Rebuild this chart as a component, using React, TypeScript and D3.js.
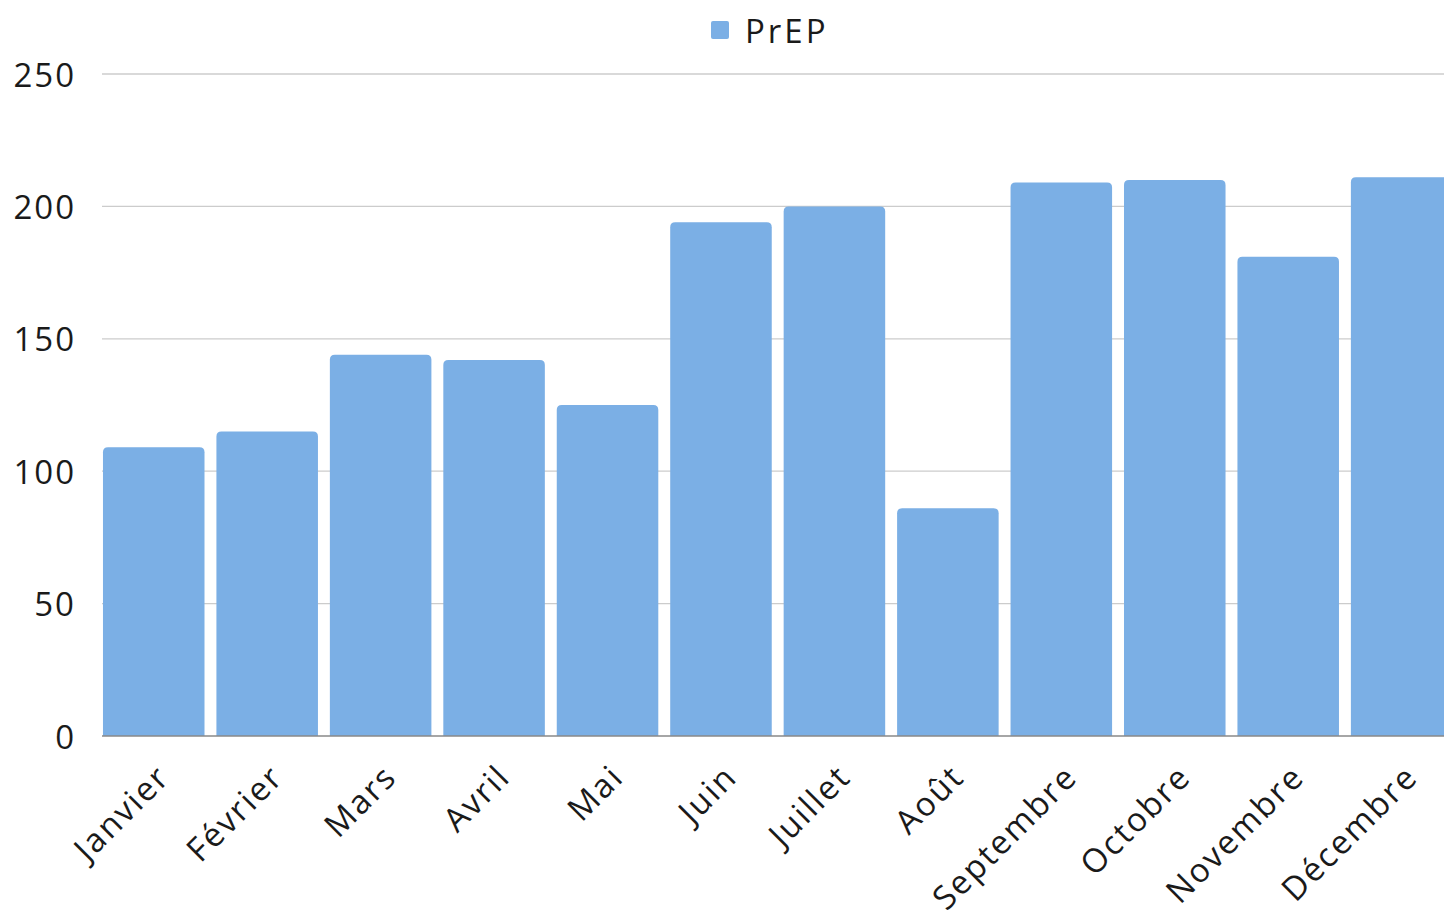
import React from 'react';
import * as d3 from 'd3';

// données
const months = ['Janvier', 'Février', 'Mars', 'Avril', 'Mai', 'Juin', 'Juillet', 'Août', 'Septembre', 'Octobre', 'Novembre', 'Décembre'];
const prepValues = [109, 115, 144, 142, 125, 194, 200, 86, 209, 210, 181, 211];
const yTicks = [0, 50, 100, 150, 200, 250];
const seriesName = 'PrEP';

const WIDTH = 1444;
const HEIGHT = 911;
const FONT = "'Open Sans', sans-serif";
const BAR_COLOR = '#7BAFE5';

// chemin d'une barre avec coins supérieurs arrondis
function topRoundedRect(x: number, y: number, w: number, h: number, r: number) {
  const rr = Math.min(r, h, w / 2);
  return `M${x},${y + h}V${y + rr}Q${x},${y} ${x + rr},${y}H${x + w - rr}Q${x + w},${y} ${x + w},${y + rr}V${y + h}Z`;
}

export default function App() {
  const x = d3.scaleBand<string>()
    .domain(months)
    .range([97.3, 97.3 + 113.4 * 12])
    .paddingInner(0.105)
    .paddingOuter(0.05);

  const y = d3.scaleLinear().domain([0, 250]).range([736, 74]);

  return (
    <svg
      width={WIDTH}
      height={HEIGHT}
      style={{ position: 'absolute', left: 0, top: 0, display: 'block', fontFamily: FONT, letterSpacing: '2px' }}
    >
      <rect x={0} y={0} width={WIDTH} height={HEIGHT} fill="#fff" />

      {/* légende */}
      <rect x={711} y={21} width={18} height={18} rx={2} fill={BAR_COLOR} />
      <text x={745} y={30} dominantBaseline="central" fontSize={33} fill="#1a1a1a" style={{ letterSpacing: '3px' }}>{seriesName}</text>

      {/* grille + axe vertical */}
      {yTicks.map(t => (
        <g key={t}>
          {t > 0 && (
            <line x1={102} x2={WIDTH} y1={y(t)} y2={y(t)} stroke="#cccccc" strokeWidth={1.3} />
          )}
          <text x={76} y={y(t)} textAnchor="end" dominantBaseline="central" fontSize={33} fill="#1a1a1a">
            {t}
          </text>
        </g>
      ))}

      {/* barres */}
      {months.map((m, i) => {
        const bx = x(m) as number;
        const by = y(prepValues[i]);
        return (
          <path
            key={m}
            d={topRoundedRect(bx, by, x.bandwidth(), y(0) - by, 5)}
            fill={BAR_COLOR}
          />
        );
      })}

      {/* ligne de base */}
      <line x1={102} x2={WIDTH} y1={y(0)} y2={y(0)} stroke="#888" strokeWidth={1.3} />

      {/* étiquettes des mois */}
      {months.map(m => {
        const cx = (x(m) as number) + x.bandwidth() / 2;
        return (
          <text
            key={m}
            transform={`translate(${cx + 18},${779}) rotate(-45)`}
            textAnchor="end"
            fontSize={33}
            fill="#1a1a1a"
          >
            {m}
          </text>
        );
      })}
    </svg>
  );
}
